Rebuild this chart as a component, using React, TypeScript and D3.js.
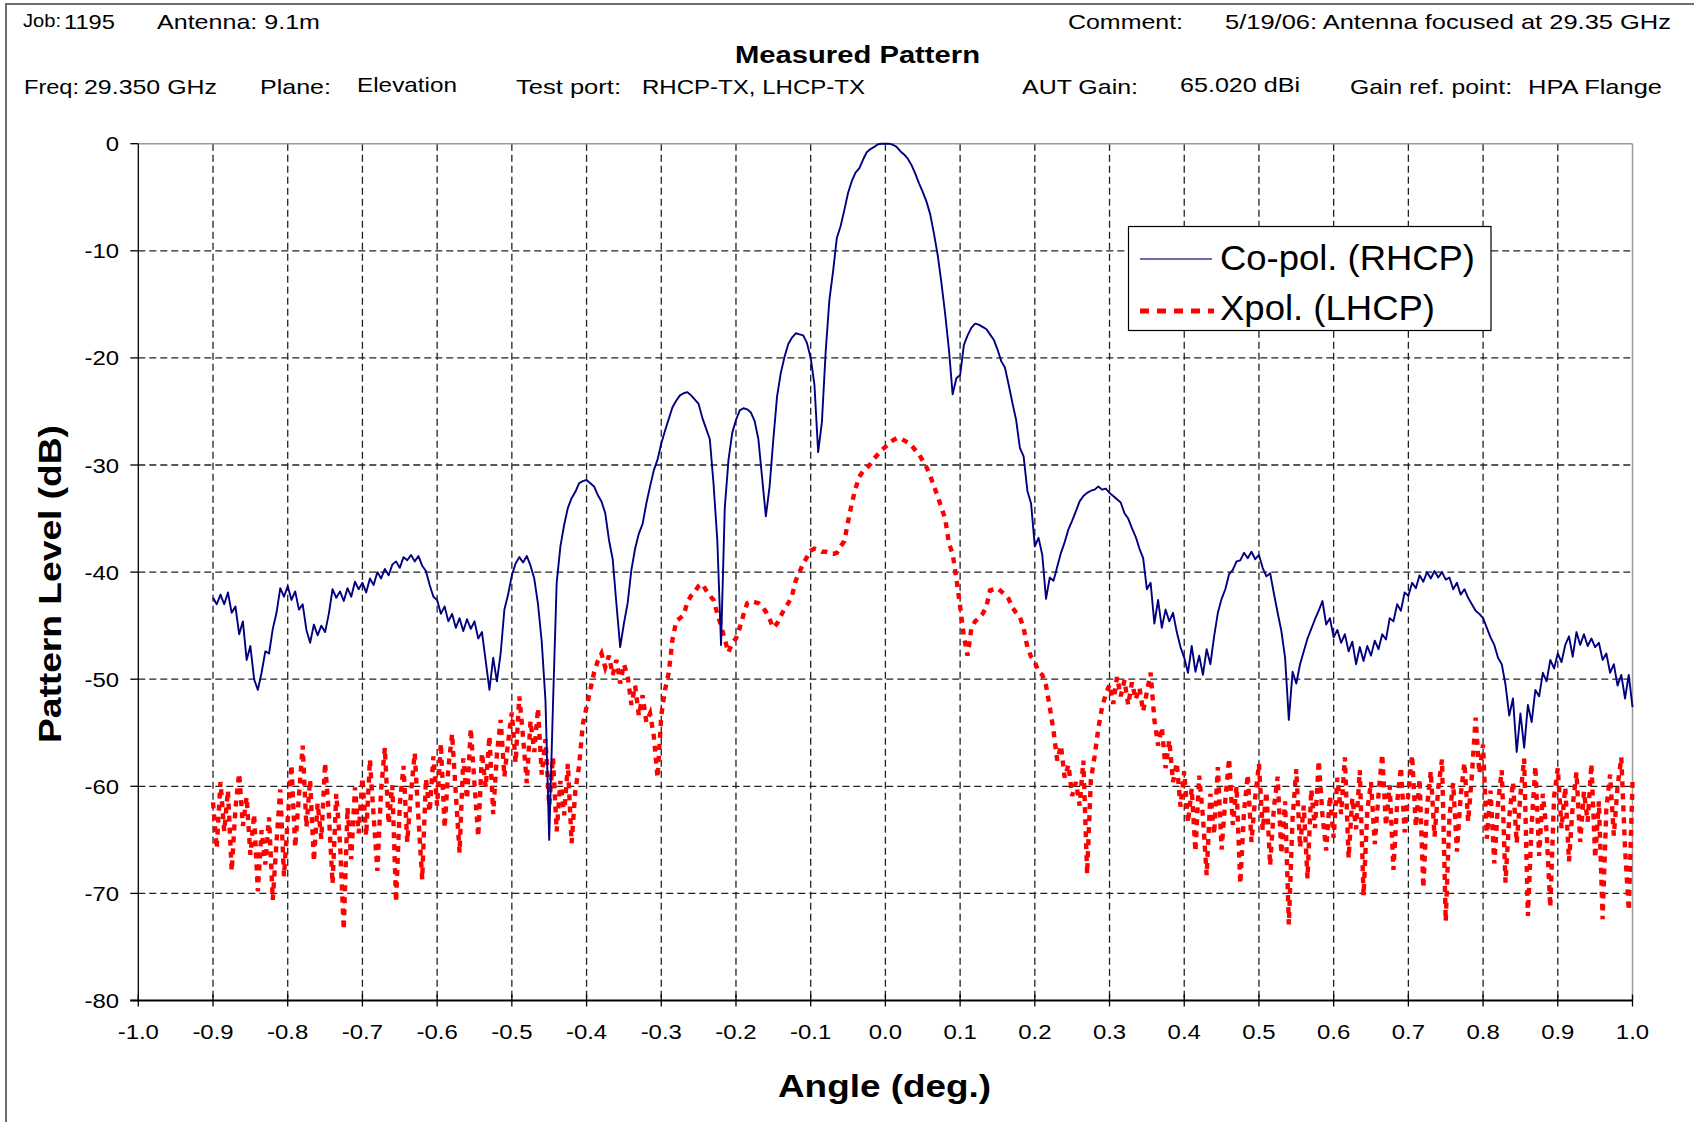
import React from 'react';
import * as d3 from 'd3';

// ---- data ----
// Both series sampled every 0.005 deg from -0.9 to 1.0
const ANGLE_START = -0.9;
const ANGLE_STEP = 0.005;

// Co-pol (RHCP), dB
const coPol: number[] = [
  -42.4,-43.0,-42.1,-43.0,-41.9,-43.8,-43.2,-45.8,-44.6,-48.2,-46.9,-50.0,-51.0,-49.4,-47.4,-47.6,-45.3,-43.8,-41.5,-42.3,
  -41.3,-42.6,-41.8,-43.5,-43.0,-45.4,-46.6,-44.9,-45.9,-45.0,-45.6,-43.9,-41.6,-42.4,-41.8,-42.7,-41.5,-42.3,-40.9,-41.6,
  -41.0,-41.9,-40.6,-41.2,-40.0,-40.6,-39.7,-40.3,-39.3,-39.0,-39.6,-38.6,-38.9,-38.4,-39.0,-38.5,-39.4,-39.9,-41.2,-42.3,
  -42.6,-43.9,-43.2,-44.6,-43.9,-45.2,-44.3,-45.5,-44.4,-45.3,-44.6,-46.2,-45.6,-48.3,-51.0,-48.0,-50.2,-47.6,-43.5,-42.1,
  -40.3,-39.2,-38.6,-39.1,-38.5,-39.4,-40.6,-43.0,-46.5,-52.0,-65.0,-52.5,-41.0,-37.6,-35.6,-34.0,-33.1,-32.5,-31.7,-31.5,
  -31.4,-31.7,-32.0,-32.8,-33.4,-34.5,-37.0,-38.8,-43.0,-47.0,-44.8,-42.9,-39.8,-37.8,-36.4,-35.5,-33.6,-32.0,-30.5,-29.5,
  -28.0,-26.8,-25.7,-24.6,-24.0,-23.5,-23.3,-23.2,-23.5,-23.9,-24.3,-25.6,-26.6,-27.6,-31.8,-37.0,-46.8,-34.0,-29.5,-27.0,
  -25.8,-24.9,-24.7,-24.8,-25.1,-25.9,-27.6,-31.2,-34.8,-32.0,-27.6,-23.6,-21.4,-19.9,-18.7,-18.1,-17.7,-17.8,-17.9,-18.6,
  -20.0,-22.5,-28.8,-26.0,-19.5,-14.6,-11.9,-8.8,-7.7,-6.2,-4.6,-3.5,-2.7,-2.3,-1.5,-0.8,-0.5,-0.3,-0.05,0.0,
  0.0,0.0,-0.1,-0.3,-0.7,-1.0,-1.4,-2.0,-2.8,-3.7,-4.5,-5.4,-6.6,-8.4,-10.4,-13.0,-15.9,-19.2,-23.4,-21.9,
  -21.6,-18.8,-17.9,-17.2,-16.8,-16.9,-17.1,-17.3,-17.8,-18.3,-19.2,-20.3,-20.9,-22.5,-24.2,-25.8,-28.4,-29.2,-32.4,-33.6,
  -37.6,-36.8,-38.4,-42.5,-40.5,-40.8,-39.5,-38.2,-37.2,-36.0,-35.2,-34.3,-33.4,-32.9,-32.6,-32.4,-32.3,-32.0,-32.3,-32.2,
  -32.6,-32.9,-33.2,-33.5,-34.5,-35.0,-35.9,-36.7,-37.8,-38.7,-41.6,-41.0,-44.8,-42.6,-45.2,-43.5,-44.6,-43.8,-45.6,-47.0,
  -48.0,-49.4,-46.9,-49.3,-47.8,-49.6,-47.2,-48.6,-46.0,-43.8,-42.5,-41.6,-40.2,-39.8,-39.0,-38.9,-38.2,-38.7,-38.1,-38.8,
  -38.4,-39.6,-40.4,-40.1,-42.0,-43.8,-45.5,-48.0,-53.8,-49.3,-50.4,-48.6,-47.4,-46.2,-45.3,-44.4,-43.6,-42.7,-44.9,-44.3,
  -46.1,-45.4,-46.6,-45.8,-47.4,-46.5,-48.6,-47.0,-48.3,-46.9,-47.8,-46.4,-47.2,-45.8,-46.3,-44.3,-44.6,-43.0,-43.6,-41.9,
  -42.2,-41.0,-41.5,-40.3,-40.9,-40.0,-40.6,-39.9,-40.5,-40.0,-40.7,-40.5,-41.6,-41.0,-42.1,-41.6,-42.4,-43.0,-43.6,-43.9,
  -44.3,-45.2,-46.1,-46.8,-48.0,-48.6,-50.5,-53.4,-51.8,-56.8,-53.2,-56.4,-52.4,-54.0,-51.0,-51.6,-49.4,-50.2,-48.2,-49.0,
  -47.6,-48.4,-46.8,-46.0,-47.9,-45.6,-46.8,-45.8,-46.9,-46.2,-47.0,-46.6,-48.2,-47.6,-49.4,-48.6,-50.6,-49.6,-51.8,-49.6,-52.6,
];

// Xpol (LHCP), dB
const xPol: number[] = [
  -61.5,-65.8,-59.6,-64.2,-60.4,-67.9,-62.1,-58.8,-63.7,-61.0,-66.4,-62.6,-69.8,-64.1,-67.3,-62.9,-70.6,-65.2,-60.3,-68.4,
  -63.1,-58.0,-65.7,-60.9,-56.2,-63.8,-59.4,-67.0,-61.6,-64.9,-57.8,-62.5,-69.1,-60.7,-65.3,-73.4,-62.0,-66.8,-60.1,-64.4,
  -59.2,-64.6,-57.5,-62.8,-67.9,-60.3,-56.4,-63.5,-59.9,-70.8,-61.7,-58.1,-65.2,-60.6,-56.9,-63.0,-68.7,-59.3,-62.4,-57.2,
  -61.8,-56.0,-63.9,-58.3,-55.1,-60.7,-66.2,-57.4,-61.2,-54.6,-59.8,-64.7,-56.9,-60.1,-55.3,-62.6,-57.0,-53.8,-59.1,-55.9,
  -53.1,-57.8,-51.6,-55.4,-59.7,-53.9,-56.8,-52.7,-58.9,-55.6,-61.8,-57.3,-64.2,-59.5,-62.7,-57.9,-65.3,-60.4,-58.1,-54.2,
  -52.6,-51.0,-49.4,-48.3,-47.6,-48.9,-47.8,-49.6,-48.2,-50.4,-48.6,-49.7,-52.4,-50.6,-53.4,-51.5,-54.0,-53.2,-55.3,-59.2,
  -53.4,-51.0,-49.4,-46.3,-44.6,-44.3,-44.0,-42.8,-42.2,-41.8,-41.3,-41.1,-41.7,-42.2,-42.6,-43.9,-45.0,-46.3,-47.5,-46.6,
  -46.2,-45.2,-44.0,-42.9,-42.7,-42.8,-42.9,-43.2,-43.7,-44.4,-45.2,-44.8,-44.1,-43.4,-42.9,-42.2,-40.8,-40.0,-39.2,-38.6,
  -38.0,-37.8,-37.9,-38.1,-38.1,-38.2,-38.3,-38.2,-37.6,-37.1,-35.3,-33.6,-32.2,-31.1,-30.6,-30.3,-29.9,-29.4,-29.0,-28.6,
  -28.3,-28.0,-27.7,-27.5,-27.5,-27.7,-27.9,-28.2,-28.6,-29.0,-29.6,-30.2,-31.0,-32.0,-32.9,-34.0,-35.0,-37.3,-38.3,-40.6,
  -43.2,-46.0,-47.8,-45.3,-44.6,-44.3,-43.9,-43.3,-41.7,-41.6,-41.5,-41.8,-42.1,-42.5,-43.3,-43.8,-44.2,-45.2,-47.0,-47.9,
  -48.4,-49.3,-49.6,-50.6,-52.6,-54.8,-57.6,-56.2,-59.2,-58.0,-60.9,-59.6,-61.8,-57.6,-68.2,-59.4,-57.2,-54.6,-52.6,-51.4,
  -50.5,-52.3,-49.8,-51.6,-50.1,-52.4,-50.3,-51.9,-50.8,-53.0,-51.2,-49.4,-53.8,-56.2,-54.5,-58.3,-55.7,-59.6,-57.8,-61.9,
  -58.6,-63.4,-60.2,-66.1,-59.0,-62.8,-68.3,-60.7,-64.5,-58.2,-65.9,-61.3,-57.4,-63.6,-60.0,-69.1,-62.4,-58.9,-65.2,-61.0,
  -57.9,-64.1,-60.5,-67.4,-62.0,-59.1,-66.3,-61.4,-72.9,-63.0,-58.4,-65.7,-61.8,-68.6,-60.3,-63.9,-57.6,-62.7,-66.0,-60.9,
  -64.8,-59.2,-62.6,-57.3,-66.7,-61.1,-64.0,-58.5,-70.2,-62.3,-59.6,-65.4,-60.8,-57.0,-63.7,-59.9,-67.8,-61.5,-58.2,-64.3,
  -60.6,-57.1,-63.8,-59.3,-69.5,-61.9,-58.6,-64.7,-60.2,-57.5,-72.6,-62.8,-59.7,-66.1,-60.9,-57.8,-63.3,-59.0,-53.6,-58.8,
  -56.1,-64.9,-60.4,-67.2,-61.6,-58.5,-69.0,-62.9,-59.6,-65.3,-60.8,-57.4,-72.1,-63.6,-58.1,-66.5,-60.7,-64.2,-71.3,-61.0,
  -58.3,-63.9,-60.1,-67.0,-61.8,-58.7,-65.2,-60.5,-63.3,-57.9,-66.7,-61.4,-72.4,-62.1,-58.9,-64.6,-60.0,-57.3,-65.8,-71.6,-59.6,
];

const xTickValues: number[] = [-1.0,-0.9,-0.8,-0.7,-0.6,-0.5,-0.4,-0.3,-0.2,-0.1,0.0,0.1,0.2,0.3,0.4,0.5,0.6,0.7,0.8,0.9,1.0];
const yTickValues: number[] = [0,-10,-20,-30,-40,-50,-60,-70,-80];
const seriesNames: string[] = ['Co-pol. (RHCP)', 'Xpol. (LHCP)'];

// ---- layout ----
const W = 1694;
const H = 1122;
const PL = 138.3, PR = 1632.5, PT = 143.7, PB = 1000.5;
const FONT = '"Liberation Sans", Arial, Helvetica, sans-serif';
const NAVY = '#000080';
const RED = '#ff0000';

type HT = { t: string; x: number; y: number; len: number; size?: number; bold?: boolean };
const header: HT[] = [
  { t: 'Job:', x: 23, y: 27, len: 38, size: 18 },
  { t: '1195', x: 64, y: 29, len: 51 },
  { t: 'Antenna: 9.1m', x: 157, y: 29, len: 163 },
  { t: 'Comment:', x: 1068, y: 29, len: 115 },
  { t: '5/19/06: Antenna focused at 29.35 GHz', x: 1225, y: 29, len: 446 },
  { t: 'Measured Pattern', x: 735, y: 63, len: 245, size: 23, bold: true },
  { t: 'Freq:', x: 24, y: 94, len: 55 },
  { t: '29.350 GHz', x: 84, y: 94, len: 133 },
  { t: 'Plane:', x: 260, y: 94, len: 71 },
  { t: 'Elevation', x: 357, y: 92, len: 100 },
  { t: 'Test port:', x: 516, y: 94, len: 105 },
  { t: 'RHCP-TX, LHCP-TX', x: 642, y: 94, len: 223 },
  { t: 'AUT Gain:', x: 1022, y: 94, len: 116 },
  { t: '65.020 dBi', x: 1180, y: 92, len: 120 },
  { t: 'Gain ref. point:', x: 1350, y: 94, len: 162 },
  { t: 'HPA Flange', x: 1528, y: 94, len: 134 },
];

export default function App() {
  const x = d3.scaleLinear().domain([-1, 1]).range([PL, PR]);
  const y = d3.scaleLinear().domain([-80, 0]).range([PB, PT]);
  const angle = (i: number) => ANGLE_START + i * ANGLE_STEP;

  const line = d3
    .line<number>()
    .x((_, i) => x(angle(i)))
    .y((d) => y(d));

  const fmt = (v: number) => d3.format('.1f')(v).replace('\u2212', '-');

  return (
    <svg
      width={W}
      height={H}
      viewBox={`0 0 ${W} ${H}`}
      style={{ position: 'absolute', left: 0, top: 0, background: '#fff' }}
      fontFamily={FONT}
    >
      <rect x={0} y={0} width={W} height={H} fill="#fff" />
      {/* outer frame */}
      <line x1={5} y1={4} x2={W} y2={4} stroke="#6e6e6e" strokeWidth={2} />
      <line x1={6} y1={4} x2={6} y2={H} stroke="#6e6e6e" strokeWidth={2} />

      {/* header */}
      {header.map((h, i) => (
        <text
          key={i}
          x={h.x}
          y={h.y}
          fontSize={h.size ?? 21}
          fontWeight={h.bold ? 'bold' : 'normal'}
          textLength={h.len}
          lengthAdjust="spacingAndGlyphs"
          fill="#000"
        >
          {h.t}
        </text>
      ))}

      {/* grid */}
      <g stroke="#222" strokeWidth={1.3} strokeDasharray="7,4">
        {xTickValues
          .filter((v) => v > -0.95 && v < 0.95)
          .map((v) => (
            <line key={'gx' + v} x1={x(v)} x2={x(v)} y1={PT} y2={PB} />
          ))}
        {yTickValues
          .filter((v) => v < 0 && v > -80)
          .map((v) => (
            <line key={'gy' + v} x1={PL} x2={PR} y1={y(v)} y2={y(v)} />
          ))}
      </g>

      {/* plot border */}
      <line x1={PL} x2={PR} y1={PT} y2={PT} stroke="#9a9a9a" strokeWidth={1.5} />
      <line x1={PR} x2={PR} y1={PT} y2={PB} stroke="#9a9a9a" strokeWidth={1.5} />

      {/* series */}
      <path
        d={line(xPol) || ''}
        fill="none"
        stroke={RED}
        strokeWidth={4.4}
        strokeDasharray="6,6"
        strokeLinejoin="miter"
      />
      <path d={line(coPol) || ''} fill="none" stroke={NAVY} strokeWidth={1.9} strokeLinejoin="round" />

      {/* axes */}
      <line x1={PL} x2={PL} y1={PT} y2={PB} stroke="#000" strokeWidth={1.3} />
      <line x1={PL - 8} x2={PR} y1={PB} y2={PB} stroke="#000" strokeWidth={2} />
      {yTickValues.map((v) => (
        <g key={'yt' + v}>
          <line x1={PL - 8} x2={PL} y1={y(v)} y2={y(v)} stroke="#000" strokeWidth={1.3} />
          <g transform={`translate(${119},${y(v) + 7.5}) scale(1.14,1)`}>
            <text textAnchor="end" fontSize={21} fill="#000">
              {v}
            </text>
          </g>
        </g>
      ))}
      {xTickValues.map((v) => (
        <g key={'xt' + v}>
          <line x1={x(v)} x2={x(v)} y1={PB - 6} y2={PB + 6} stroke="#000" strokeWidth={1.3} />
          <g transform={`translate(${x(v)},${1039}) scale(1.14,1)`}>
            <text textAnchor="middle" fontSize={21} fill="#000">
              {fmt(v)}
            </text>
          </g>
        </g>
      ))}

      {/* axis titles */}
      <text
        transform={`translate(61,584) rotate(-90)`}
        textAnchor="middle"
        fontSize={31}
        fontWeight="bold"
        textLength={318}
        lengthAdjust="spacingAndGlyphs"
        fill="#000"
      >
        Pattern Level (dB)
      </text>
      <text
        x={884.5}
        y={1097}
        textAnchor="middle"
        fontSize={31}
        fontWeight="bold"
        textLength={213}
        lengthAdjust="spacingAndGlyphs"
        fill="#000"
      >
        Angle (deg.)
      </text>

      {/* legend */}
      <rect x={1128.5} y={226.5} width={362.5} height={104} fill="#fff" stroke="#000" strokeWidth={1.2} />
      <line x1={1140} x2={1212} y1={259} y2={259} stroke="#3a3a98" strokeWidth={1.4} />
      <text x={1220} y={270} fontSize={35} textLength={255} lengthAdjust="spacingAndGlyphs" fill="#000">
        {seriesNames[0]}
      </text>
      <line x1={1140} x2={1214} y1={311} y2={311} stroke={RED} strokeWidth={5} strokeDasharray="9,8" />
      <text x={1220} y={320} fontSize={35} textLength={215} lengthAdjust="spacingAndGlyphs" fill="#000">
        {seriesNames[1]}
      </text>
    </svg>
  );
}
